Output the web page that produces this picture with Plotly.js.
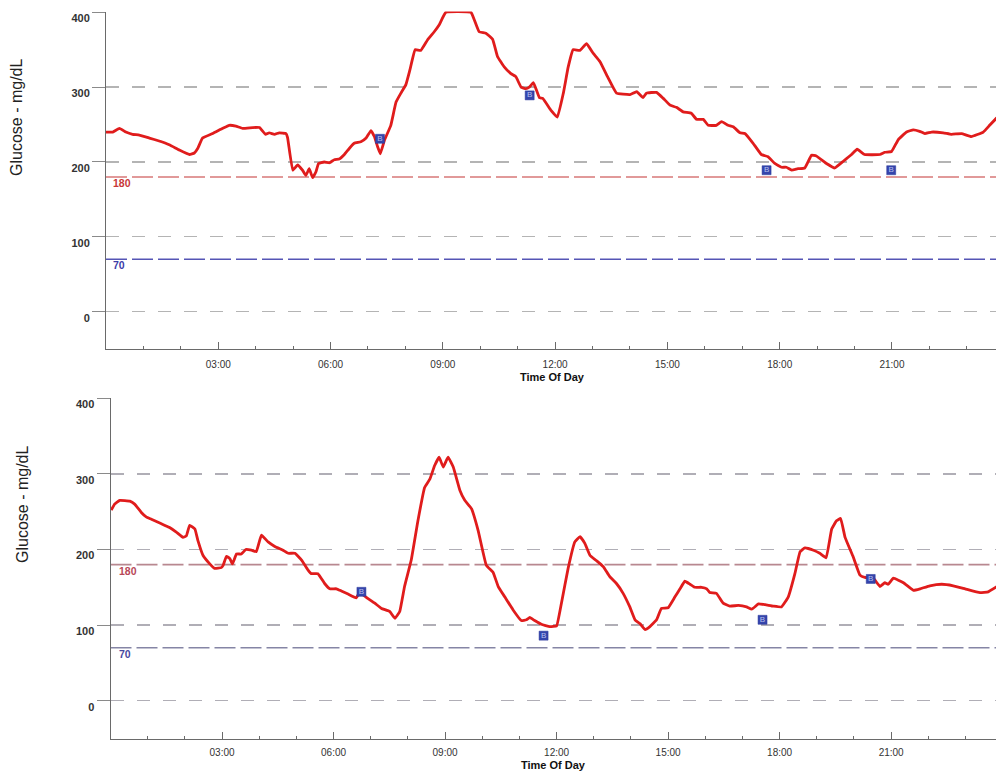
<!DOCTYPE html>
<html>
<head>
<meta charset="utf-8">
<script src="https://cdn.plot.ly/plotly-3.0.1.min.js"></script>
<style>html,body{margin:0;padding:0;background:#fff;}#chart{width:996px;height:774px;}</style>
</head>
<body>
<div id="chart"></div>
<script>
// ---- Data (hours of day, glucose mg/dL) ----
var topHours = [0,0.18,0.36,0.53,0.71,0.89,1.16,1.42,1.69,1.96,2.23,2.36,2.45,2.58,2.85,3.12,3.29,3.47,3.65,3.92,4.10,4.26,4.36,4.50,4.63,4.81,4.85,4.99,5.12,5.25,5.34,5.43,5.52,5.61,5.68,5.83,5.97,6.10,6.23,6.37,6.50,6.63,6.81,6.95,7.08,7.17,7.26,7.33,7.44,7.61,7.75,7.88,8.01,8.12,8.26,8.41,8.59,8.77,8.90,9.08,9.75,9.84,9.97,10.15,10.33,10.46,10.64,10.82,10.95,11.09,11.22,11.31,11.42,11.58,11.67,11.89,12.06,12.22,12.35,12.48,12.66,12.84,13.02,13.20,13.42,13.64,14.0,14.18,14.35,14.44,14.71,14.89,15.07,15.24,15.42,15.64,15.78,15.96,16.09,16.31,16.45,16.62,16.76,16.94,17.07,17.29,17.51,17.69,17.87,18.05,18.18,18.32,18.49,18.67,18.85,18.98,19.25,19.47,19.70,19.92,20.07,20.27,20.68,20.81,20.99,21.17,21.39,21.57,21.74,21.88,22.06,22.37,22.59,22.86,23.12,23.44,23.61,23.80];
var topGlucose = [240,240,245,240,237,236,232,228,223,216,210,212,218,232,238,245,249,248,245,246,246,237,239,237,239,238,233,189,196,189,182,191,179,187,198,200,199,203,204,210,218,225,227,232,242,234,220,211,229,249,280,292,303,323,350,349,363,374,383,400,400,390,374,372,364,341,327,318,314,300,298,300,306,286,285,269,260,292,327,350,349,358,345,334,312,292,290,294,286,292,293,285,276,273,267,265,257,257,249,249,254,249,247,239,238,225,210,207,198,193,193,189,191,192,209,208,198,192,201,210,217,210,210,213,214,230,240,243,241,238,240,239,237,238,234,240,249,259];

var bottomHours = [0.02,0.11,0.25,0.52,0.65,0.83,0.96,1.10,1.37,1.59,1.77,1.95,2.04,2.13,2.27,2.35,2.49,2.67,2.80,2.98,3.03,3.12,3.21,3.28,3.39,3.52,3.64,3.79,3.92,4.06,4.24,4.42,4.64,4.78,4.96,5.14,5.31,5.40,5.58,5.76,5.90,6.08,6.21,6.39,6.61,6.70,6.93,7.11,7.29,7.51,7.65,7.78,7.91,8.09,8.27,8.45,8.59,8.72,8.84,8.95,9.08,9.22,9.40,9.53,9.71,9.89,10.11,10.29,10.43,10.61,10.83,11.05,11.19,11.28,11.41,11.59,11.82,12.0,12.13,12.31,12.49,12.63,12.76,12.90,13.08,13.26,13.43,13.61,13.79,13.97,14.11,14.24,14.38,14.51,14.69,14.82,15.0,15.18,15.32,15.45,15.59,15.72,15.90,16.04,16.12,16.30,16.48,16.66,16.89,17.11,17.25,17.43,17.61,17.83,18.05,18.23,18.41,18.55,18.68,18.91,19.08,19.25,19.40,19.53,19.64,19.76,19.98,20.16,20.29,20.52,20.70,20.83,20.92,21.06,21.33,21.60,21.78,22.04,22.36,22.67,22.99,23.39,23.61,23.85];
var bottomGlucose = [252,260,265,264,260,249,243,240,234,229,223,216,218,232,227,212,192,181,175,176,179,191,188,181,194,194,200,199,197,219,210,204,199,195,195,186,173,168,168,155,148,148,145,141,136,143,135,129,122,118,109,118,151,186,238,282,293,311,322,309,322,309,278,265,254,225,179,170,151,137,120,106,107,110,106,101,98,99,129,175,210,217,208,192,185,177,164,155,142,124,107,102,94,98,107,122,123,137,148,158,154,150,150,148,143,142,129,125,126,124,121,128,127,125,124,137,168,197,202,199,195,189,227,238,241,216,190,166,163,162,151,156,154,162,156,146,148,152,154,152,148,143,144,151];

var topMarkerHours = [7.32, 11.32, 17.65, 20.98];
var topMarkerGlucose = [231, 289, 189, 189];
var bottomMarkerHours = [6.75, 11.65, 17.54, 20.45];
var bottomMarkerGlucose = [144, 86, 107, 161];

var thresholds = [180, 70];
var thresholdLabels = ['180', '70'];
var yTickVals = [0, 100, 200, 300, 400];
var xTickVals = [3, 6, 9, 12, 15, 18, 21];
var xTickText = ['03:00', '06:00', '09:00', '12:00', '15:00', '18:00', '21:00'];

// ---- Styling ----
var FONT = 'Arial, "Liberation Sans", sans-serif';
var lineColor = '#e01c1c';
var markerColor = '#3545ac';

function curve(x, y, xa, ya) {
  return {x: x, y: y, xaxis: xa, yaxis: ya, type: 'scatter', mode: 'lines',
    line: {color: lineColor, width: 2.8, shape: 'spline', smoothing: 0.3}, hoverinfo: 'skip', showlegend: false};
}
function bmarks(x, y, xa, ya) {
  return {x: x, y: y, xaxis: xa, yaxis: ya, type: 'scatter', mode: 'markers+text',
    text: x.map(function(){return 'B';}), textposition: 'middle center',
    textfont: {family: FONT, size: 8, color: '#b8c0ee'},
    marker: {symbol: 'square', size: 9, color: markerColor, line: {color: '#28369a', width: 0.5}},
    hoverinfo: 'skip', showlegend: false, cliponaxis: false};
}

var data = [
  curve(topHours, topGlucose, 'x', 'y'),
  bmarks(topMarkerHours, topMarkerGlucose, 'x', 'y'),
  curve(bottomHours, bottomGlucose, 'x2', 'y2'),
  bmarks(bottomMarkerHours, bottomMarkerGlucose, 'x2', 'y2')
];

function xAxis(domain, range, anchor, standoff) {
  return {domain: domain, range: range, anchor: anchor, showgrid: false, zeroline: false,
    showline: true, linecolor: '#6a6a6a', linewidth: 1,
    tickmode: 'array', tickvals: xTickVals, ticktext: xTickText,
    ticks: 'inside', ticklen: 7, tickcolor: '#6a6a6a', tickwidth: 1,
    ticklabelstandoff: standoff,
    tickfont: {family: FONT, size: 10, color: '#333'},
    minor: {tick0: 0, dtick: 1, ticks: 'inside', ticklen: 3, tickcolor: '#6a6a6a', showgrid: false},
    fixedrange: true};
}
function yAxis(domain, anchor, gridcolor) {
  return {domain: domain, range: [-50, 401], anchor: anchor,
    tickmode: 'array', tickvals: yTickVals,
    showgrid: true, gridcolor: gridcolor, griddash: '13px,13px', gridwidth: 1.3,
    zeroline: false, showline: true, linecolor: '#6a6a6a', linewidth: 1,
    ticks: 'outside', ticklen: 13, tickcolor: '#8a8a8a', tickwidth: 1,
    ticklabelshift: 6,
    tickfont: {family: FONT, size: 11, color: '#333', weight: 'bold'},
    fixedrange: true};
}

var shapes = [];
var annotations = [];
var threshColorsTop = ['#d87878', '#5555b5'];
var threshColorsBot = ['#b88890', '#8585a5'];
var labelColorsTop = ['#c83838', '#3c3ca8'];
var labelColorsBot = ['#b84858', '#4848a0'];
thresholds.forEach(function(t, i) {
  shapes.push({type: 'line', xref: 'x domain', yref: 'y', x0: 0, x1: 1, y0: t, y1: t,
    line: {color: threshColorsTop[i], width: 1.5, dash: '21px,5px'}, layer: 'below'});
  shapes.push({type: 'line', xref: 'x2 domain', yref: 'y2', x0: 0, x1: 1, y0: t, y1: t,
    line: {color: threshColorsBot[i], width: 1.6, dash: '21px,5px'}, layer: 'below'});
  annotations.push({xref: 'x domain', yref: 'y', x: 0, y: t, xanchor: 'left', yanchor: 'middle',
    xshift: 5, yshift: -6, text: thresholdLabels[i], showarrow: false,
    font: {family: FONT, size: 10.5, color: labelColorsTop[i], weight: 'bold'}});
  annotations.push({xref: 'x2 domain', yref: 'y2', x: 0, y: t, xanchor: 'left', yanchor: 'middle',
    xshift: 6, yshift: -6, text: thresholdLabels[i], showarrow: false,
    font: {family: FONT, size: 10.5, color: labelColorsBot[i], weight: 'bold'}});
});

// axis titles
annotations.push({xref: 'paper', yref: 'paper', x: 17/996, y: 1 - 118/774, text: 'Glucose - mg/dL',
  textangle: -90, showarrow: false, xanchor: 'center', yanchor: 'middle',
  font: {family: FONT, size: 16, color: '#222'}});
annotations.push({xref: 'paper', yref: 'paper', x: 22/996, y: 1 - 505/774, text: 'Glucose - mg/dL',
  textangle: -90, showarrow: false, xanchor: 'center', yanchor: 'middle',
  font: {family: FONT, size: 16, color: '#222'}});
annotations.push({xref: 'paper', yref: 'paper', x: 552/996, y: 1 - 377/774, text: 'Time Of Day',
  showarrow: false, xanchor: 'center', yanchor: 'middle',
  font: {family: FONT, size: 11, color: '#111', weight: 'bold'}});
annotations.push({xref: 'paper', yref: 'paper', x: 553/996, y: 1 - 765/774, text: 'Time Of Day',
  showarrow: false, xanchor: 'center', yanchor: 'middle',
  font: {family: FONT, size: 11, color: '#111', weight: 'bold'}});

var layout = {
  width: 996, height: 774,
  margin: {l: 0, r: 0, t: 0, b: 0, pad: 0},
  paper_bgcolor: '#ffffff', plot_bgcolor: '#ffffff',
  showlegend: false,
  xaxis: xAxis([106/996, 1], [0, 23.78], 'y', 6),
  yaxis: yAxis([1 - 349.1/774, 1 - 11.55/774], 'x', '#b4b4b4'),
  xaxis2: xAxis([110.5/996, 1], [0, 23.82], 'y2', 4),
  yaxis2: yAxis([1 - 738.5/774, 1 - 397.5/774], 'x2', '#b0aeb6'),
  shapes: shapes,
  annotations: annotations
};

Plotly.newPlot('chart', data, layout, {displayModeBar: false, staticPlot: true});
</script>
</body>
</html>
